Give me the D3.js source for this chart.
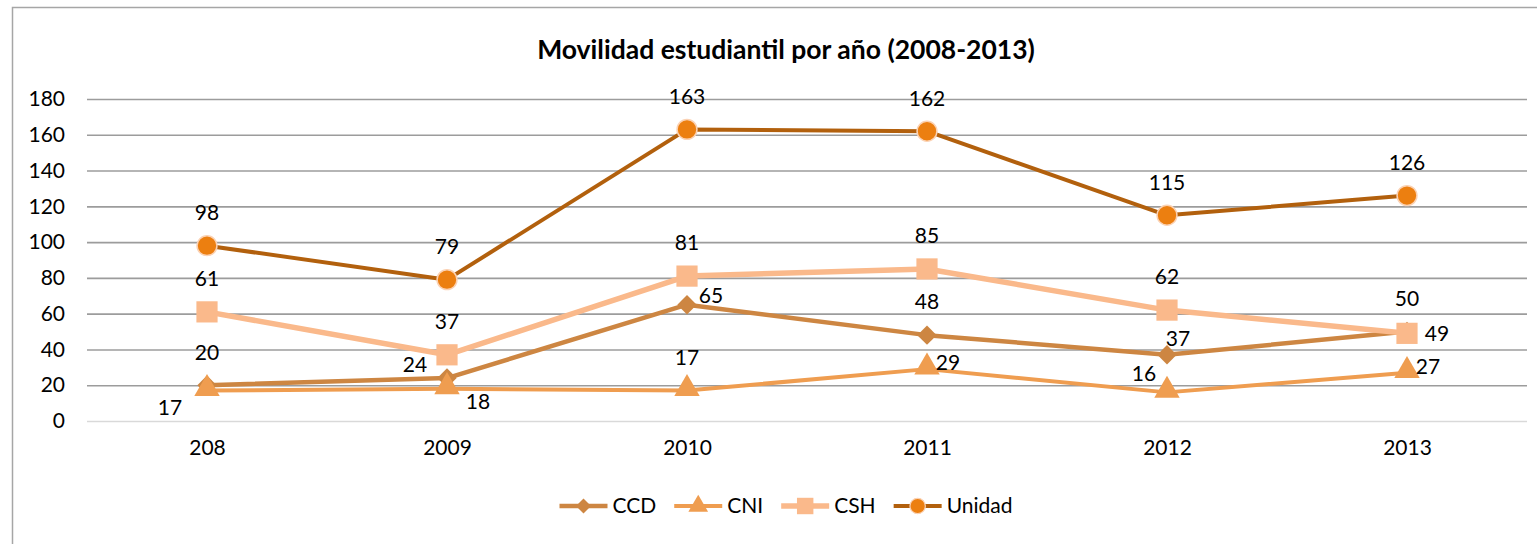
<html>
<head>
  <style>
    body { margin: 0; background: #fff; }
    svg text { font-family: Lato, "Open Sans", sans-serif; fill: #000; }
  </style>
  <script src="https://cdn.jsdelivr.net/npm/d3@7"></script>
</head>
<body>
  <svg></svg>
  <script type="text/javascript">
    // data
    var years = ["208", "2009", "2010", "2011", "2012", "2013"]
    var seriesNames = ["CCD", "CNI", "CSH", "Unidad"]
    var ccd = [20, 24, 65, 48, 37, 50]
    var cni = [17, 18, 17, 29, 16, 27]
    var csh = [61, 37, 81, 85, 62, 49]
    var unidad = [98, 79, 163, 162, 115, 126]
    var yTicks = [0, 20, 40, 60, 80, 100, 120, 140, 160, 180]

    // where each data label sits relative to its point
    var ccdLabels = ["above", "left", "upRight", "above", "upRightNear", "above"]
    var cniLabels = ["downLeft", "downRight", "above", "right", "upLeft", "right"]
    var cshLabels = ["above", "above", "above", "above", "above", "farRight"]
    var unidadLabels = ["above", "above", "above", "above", "above", "above"]

    var labelOffsets = {
      above: [0, -33],
      left: [-32, -13],
      right: [21, -6],
      farRight: [30, 0],
      upRight: [24, -9],
      upRightNear: [11, -16],
      downLeft: [-37, 17],
      downRight: [31, 13],
      upLeft: [-23, -19]
    }

    var w = 1537
    var h = 544
    var plotLeft = 87
    var plotRight = 1527
    var plotTop = 99
    var plotBottom = 421
    var center = 786
    var fontSize = "21px"

    var styles = {
      CCD: {line: "#CD8642", fill: "#CD8642", stroke: "none", width: 4.5, shape: d3.symbolDiamond2, size: 240},
      CNI: {line: "#EF9D50", fill: "#EF9D50", stroke: "none", width: 4, shape: d3.symbolTriangle, size: 280},
      CSH: {line: "#FAB98B", fill: "#FAB98B", stroke: "none", width: 5.5, shape: d3.symbolSquare, size: 450},
      Unidad: {line: "#B2600D", fill: "#EC7F10", stroke: "#FBD2B4", width: 4, shape: d3.symbolCircle, size: 310}
    }

    var series = [
      {name: "CCD", values: ccd, labels: ccdLabels},
      {name: "CNI", values: cni, labels: cniLabels},
      {name: "CSH", values: csh, labels: cshLabels},
      {name: "Unidad", values: unidad, labels: unidadLabels}
    ]

    var xScale = d3.scalePoint()
      .domain(years)
      .range([plotLeft, plotRight])
      .padding(0.5)

    var yScale = d3.scaleLinear()
      .domain([0, 180])
      .range([plotBottom, plotTop])

    var svg = d3.select("svg")
      .attr("width", w)
      .attr("height", h)

    // outer frame
    svg.append("rect")
      .attr("x", 12.5)
      .attr("y", 7.5)
      .attr("width", w)
      .attr("height", h)
      .attr("fill", "none")
      .attr("stroke", "#A6A6A6")
      .attr("stroke-width", 1.5)

    // title
    svg.append("text")
      .attr("x", center)
      .attr("y", 59)
      .attr("text-anchor", "middle")
      .style("font-size", "26.5px")
      .style("font-weight", "bold")
      .text("Movilidad estudiantil por año (2008-2013)")

    // gridlines + y axis
    var yAxis = d3.axisLeft(yScale)
      .tickValues(yTicks)
      .tickSize(-(plotRight - plotLeft))
      .tickPadding(22)

    var gy = svg.append("g")
      .attr("transform", "translate(" + plotLeft + ",0)")
      .call(yAxis)
    gy.select(".domain").remove()
    gy.selectAll(".tick line")
      .attr("stroke", function(d) { return d == 0 ? "#D9D9D9" : "#9C9C9C" })
      .attr("stroke-width", 1.6)
    gy.selectAll(".tick text")
      .style("font-size", fontSize)
      .attr("fill", "#000")

    // x axis labels
    var xAxis = d3.axisBottom(xScale).tickSize(0).tickPadding(19)
    var gx = svg.append("g")
      .attr("transform", "translate(0," + plotBottom + ")")
      .call(xAxis)
    gx.select(".domain").remove()
    gx.selectAll(".tick text")
      .style("font-size", fontSize)
      .attr("fill", "#000")

    // lines
    var line = d3.line()
      .x(function(d, i) { return xScale(years[i]) })
      .y(function(d) { return yScale(d) })

    svg.append("g").selectAll("path")
      .data(series)
      .enter()
      .append("path")
      .attr("d", function(s) { return line(s.values) })
      .attr("fill", "none")
      .attr("stroke", function(s) { return styles[s.name].line })
      .attr("stroke-width", function(s) { return styles[s.name].width })
      .attr("stroke-linejoin", "round")

    // markers
    series.forEach(function(s) {
      var st = styles[s.name]
      svg.append("g").selectAll("path")
        .data(s.values)
        .enter()
        .append("path")
        .attr("d", d3.symbol().type(st.shape).size(st.size))
        .attr("transform", function(d, i) {
          var dy = s.name == "CNI" ? -2 : 0
          return "translate(" + xScale(years[i]) + "," + (yScale(d) + dy) + ")"
        })
        .attr("fill", st.fill)
        .attr("stroke", st.stroke)
        .attr("stroke-width", 1.5)
    })

    // data labels
    series.forEach(function(s) {
      svg.append("g").selectAll("text")
        .data(s.values)
        .enter()
        .append("text")
        .text(function(d) { return d })
        .attr("x", function(d, i) { return xScale(years[i]) + labelOffsets[s.labels[i]][0] })
        .attr("y", function(d, i) { return yScale(d) + labelOffsets[s.labels[i]][1] })
        .attr("dy", "0.35em")
        .attr("text-anchor", "middle")
        .style("font-size", fontSize)
    })

    // legend
    var legend = svg.append("g")
    var lx = 0
    seriesNames.forEach(function(name) {
      var st = styles[name]
      var item = legend.append("g").attr("transform", "translate(" + lx + ",0)")
      item.append("line")
        .attr("x1", 0).attr("x2", 48)
        .attr("y1", 0).attr("y2", 0)
        .attr("stroke", st.line)
        .attr("stroke-width", st.width)
      item.append("path")
        .attr("d", d3.symbol().type(st.shape).size(st.size * 0.6))
        .attr("transform", "translate(24,0)")
        .attr("fill", st.fill)
        .attr("stroke", st.stroke)
        .attr("stroke-width", 1.2)
      var t = item.append("text")
        .attr("x", 53)
        .attr("dy", "0.35em")
        .style("font-size", fontSize)
        .text(name)
      lx += 53 + t.node().getComputedTextLength() + 18
    })
    var lw = lx - 18
    legend.attr("transform", "translate(" + (center - lw / 2) + ",506)")
  </script>
</body>
</html>
